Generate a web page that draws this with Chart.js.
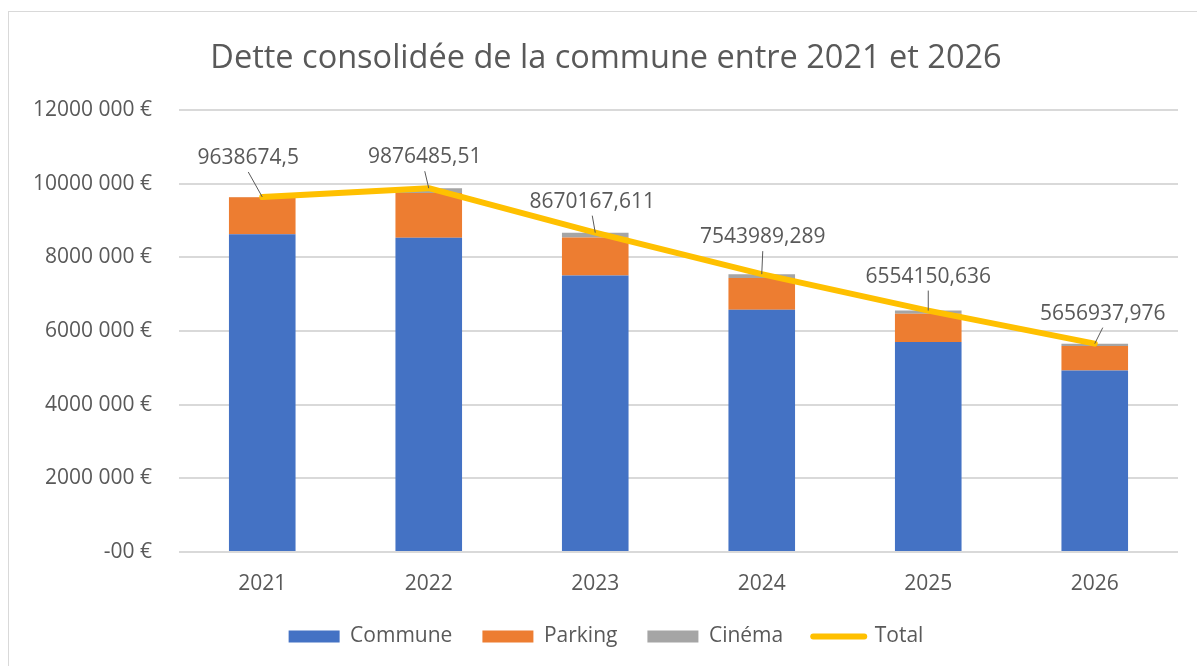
<!DOCTYPE html>
<html lang="fr">
<head>
<meta charset="UTF-8">
<title>Dette consolidée</title>
<script src="https://cdn.jsdelivr.net/npm/chart.js"></script>
<style>
    body { margin: 0; background: #fff; overflow: hidden; }
    #frame { position: absolute; left: 8px; top: 11px; width: 1200px; height: 700px; border: 1px solid #d9d9d9; }
</style>
</head>
<body>
<div id="frame">
    <canvas id="detteChart" width="1189" height="654"></canvas>
</div>
<script>
    const years = ['2021', '2022', '2023', '2024', '2025', '2026'];
    const commune = [8630000, 8530000, 7510000, 6580000, 5700000, 4930000];
    const parking = [1000000, 1220000, 1030000, 860000, 770000, 660000];
    const cinema = [8675, 126485, 130168, 103989, 84151, 66938];
    const total = [9638674.5, 9876485.51, 8670167.611, 7543989.289, 6554150.636, 5656937.976];
    const yTickLabels = ['-00 €', '2000 000 €', '4000 000 €', '6000 000 €', '8000 000 €', '10000 000 €', '12000 000 €'];

    // where each total label sits relative to its point (dx, dy)
    const labelOffsets = [[-14, -39], [-4, -31], [-3, -31], [1, -37], [0, -34], [8, -30]];

    const textColor = '#595959';
    const font = 'Open Sans';

    const totalLabels = {
        id: 'totalLabels',
        afterDatasetsDraw(chart) {
            const meta = chart.getDatasetMeta(3);
            const ctx = chart.ctx;
            ctx.save();
            ctx.font = '21px "' + font + '"';
            ctx.fillStyle = textColor;
            ctx.strokeStyle = textColor;
            ctx.lineWidth = 1;
            ctx.textAlign = 'center';
            ctx.textBaseline = 'middle';
            meta.data.forEach((pt, i) => {
                const lx = pt.x + labelOffsets[i][0];
                const ly = pt.y + labelOffsets[i][1];
                ctx.beginPath();
                ctx.moveTo(lx, ly + 14);
                ctx.lineTo(pt.x, pt.y);
                ctx.stroke();
                ctx.fillText(String(total[i]).replace('.', ','), lx, ly);
            });
            ctx.restore();
        }
    };

    const ctx = document.getElementById('detteChart').getContext('2d');
    new Chart(ctx, {
        type: 'bar',
        data: {
            labels: years,
            datasets: [
                { label: 'Commune', data: commune, backgroundColor: '#4472C4', order: 1 },
                { label: 'Parking', data: parking, backgroundColor: '#ED7D31', order: 1 },
                { label: 'Cinéma', data: cinema, backgroundColor: '#A5A5A5', order: 1 },
                {
                    label: 'Total', data: total, type: 'line', order: 0,
                    borderColor: '#FFC000', backgroundColor: '#FFC000',
                    borderWidth: 6, pointRadius: 0, tension: 0,
                    borderJoinStyle: 'round', borderCapStyle: 'round'
                }
            ]
        },
        options: {
            responsive: false,
            animation: false,
            layout: { padding: { left: 25, right: 20, top: 0, bottom: 9 } },
            datasets: { bar: { categoryPercentage: 1, barPercentage: 0.4 } },
            scales: {
                x: {
                    stacked: true,
                    grid: { display: false, drawTicks: false },
                    border: { display: false },
                    ticks: { color: textColor, font: { family: font, size: 21 }, padding: 19 },
                    afterFit: s => { s.height = 44; }
                },
                y: {
                    stacked: true,
                    min: 0,
                    max: 12000000,
                    border: { display: false },
                    grid: { color: '#d9d9d9', lineWidth: 2, drawTicks: false },
                    ticks: {
                        stepSize: 2000000,
                        color: textColor,
                        font: { family: font, size: 21 },
                        padding: 27,
                        callback: (v, i) => yTickLabels[i]
                    },
                    afterFit: s => { s.width = 145; }
                }
            },
            plugins: {
                title: {
                    display: true,
                    text: 'Dette consolidée de la commune entre 2021 et 2026',
                    color: textColor,
                    font: { family: font, size: 32.5, weight: 'normal' },
                    padding: { top: 27, bottom: 32 }
                },
                legend: {
                    position: 'bottom',
                    labels: {
                        color: textColor,
                        font: { family: font, size: 21 },
                        usePointStyle: true,
                        pointStyleWidth: 51,
                        boxHeight: 12,
                        padding: 30,
                        sort: (a, b) => a.datasetIndex - b.datasetIndex,
                        generateLabels(chart) {
                            const items = Chart.defaults.plugins.legend.labels.generateLabels(chart);
                            items.forEach(it => {
                                if (it.text === 'Total') {
                                    it.pointStyle = 'line';
                                    it.lineWidth = 6;
                                    it.lineCap = 'round';
                                    it.strokeStyle = '#FFC000';
                                } else {
                                    it.pointStyle = 'rect';
                                    it.lineWidth = 0;
                                }
                            });
                            return items;
                        }
                    }
                },
                tooltip: { enabled: false }
            }
        },
        plugins: [totalLabels]
    });
</script>
</body>
</html>
